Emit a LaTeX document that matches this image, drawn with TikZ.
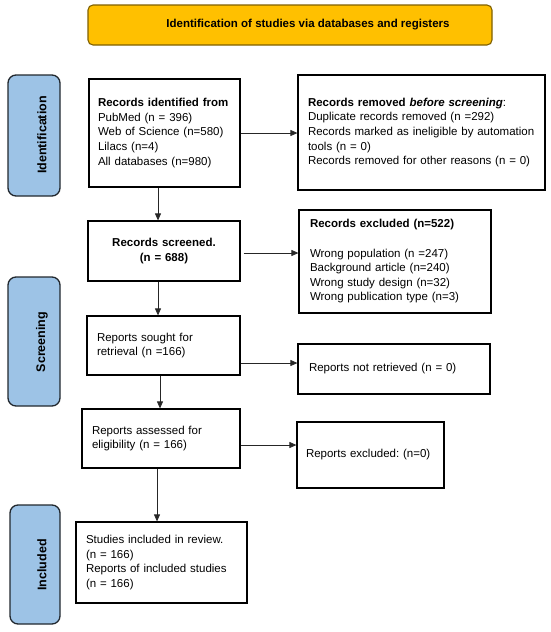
\documentclass[tikz,border=0pt]{standalone}
\usepackage{fontspec}
\setmainfont{Liberation Sans}
\usetikzlibrary{arrows.meta}
\frenchspacing
\definecolor{gold}{HTML}{FFC000}
\definecolor{goldedge}{HTML}{7F6000}
\definecolor{sideblue}{HTML}{9DC3E6}
\definecolor{sideedge}{HTML}{22282E}
\tikzset{
  box/.style={draw=black, line width=1.2pt, inner ysep=0pt, align=left,
    font=\fontsize{11.5}{14.6}\selectfont},
  banner/.style={draw=goldedge, fill=gold, line width=1.1pt, rounded corners=5pt,
    font=\fontsize{11.5}{14}\selectfont\bfseries},
  side/.style={draw=sideedge, fill=sideblue, line width=1.3pt, rounded corners=8pt},
  sidelabel/.style={rotate=90, font=\fontsize{12.5}{14}\selectfont\bfseries},
  arr/.style={draw=black!85, line width=0.8pt, -{Triangle[length=7pt,width=6pt]}}
}
\begin{document}
\begin{tikzpicture}[x=1pt,y=-1pt]
\useasboundingbox (0,0) rectangle (550,632);
% banner
\node[banner, minimum width=404pt, minimum height=40pt] (banner) at (290,25)
  {\hspace*{36pt}Identification of studies via databases and registers};
% side boxes
\draw[side] (8,75) rectangle (60,196);
\node[sidelabel] (lid) at (42,135) {Identification};
\draw[side] (8,277) rectangle (60,406);
\node[sidelabel] (lscr) at (42,342) {Screening};
\draw[side] (10,505) rectangle (60,624);
\node[sidelabel] (linc) at (42,565) {Included};
% boxes
\node[box, text width=133pt, inner xsep=9pt, minimum height=108pt] (ident) at (164.5,133)
  {\textbf{Records identified from}\\PubMed (n = 396)\\Web of Science (n=580)\\Lilacs (n=4)\\All databases (n=980)};
\node[box, text width=227pt, inner xsep=10pt, minimum height=115pt] (removed) at (421.5,132.5)
  {\textbf{Records removed \textit{before screening}}:\\Duplicate records removed (n =292)\\Records marked as ineligible by automation\\tools (n = 0)\\Records removed for other reasons (n = 0)};
\node[box, text width=132pt, inner xsep=10pt, minimum height=60pt, align=center] (screened) at (164,251)
  {\textbf{Records screened.}\\\textbf{(n = 688)}};
\node[box, text width=170pt, inner xsep=11pt, minimum height=103pt] (excluded) at (395,261.5)
  {\textbf{Records excluded (n=522)}\\[14.6pt]Wrong population (n =247)\\Background article (n=240)\\Wrong study design (n=32)\\Wrong publication type (n=3)};
\node[box, text width=133pt, inner xsep=10pt, minimum height=59pt] (sought) at (163.5,345.5)
  {Reports sought for\\retrieval (n =166)};
\node[box, text width=170pt, inner xsep=11pt, minimum height=50pt] (notret) at (394,369)
  {Reports not retrieved (n = 0)};
\node[box, text width=138pt, inner xsep=10pt, minimum height=59pt] (assessed) at (161,438.5)
  {Reports assessed for\\eligibility (n = 166)};
\node[box, text width=129pt, inner xsep=9pt, minimum height=66pt] (repexcl) at (370.5,455)
  {\mbox{Reports excluded: (n=0)}};
\node[box, text width=151pt, inner xsep=10pt, minimum height=81pt] (included) at (161.5,562.5)
  {Studies included in review.\\(n = 166)\\Reports of included studies\\(n = 166)};
% guide coordinates
\coordinate (v1) at (158,0);
\coordinate (v2) at (158,0);
\coordinate (v3) at (160,0);
\coordinate (v4) at (157,0);
\coordinate (h1) at (0,133);
\coordinate (h2) at (0,253);
\coordinate (h3) at (0,363);
\coordinate (h4) at (0,445);
% vertical arrows
\draw[arr] (ident.south -| v1) -- (screened.north -| v1);
\draw[arr] (screened.south -| v2) -- (sought.north -| v2);
\draw[arr] (sought.south -| v3) -- (assessed.north -| v3);
\draw[arr] (assessed.south -| v4) -- (included.north -| v4);
% horizontal arrows
\draw[arr] (ident.east |- h1) -- (removed.west |- h1);
\draw[arr, shorten <=3pt] (screened.east |- h2) -- (excluded.west |- h2);
\draw[arr] (sought.east |- h3) -- (notret.west |- h3);
\draw[arr] (assessed.east |- h4) -- (repexcl.west |- h4);
\end{tikzpicture}
\end{document}
